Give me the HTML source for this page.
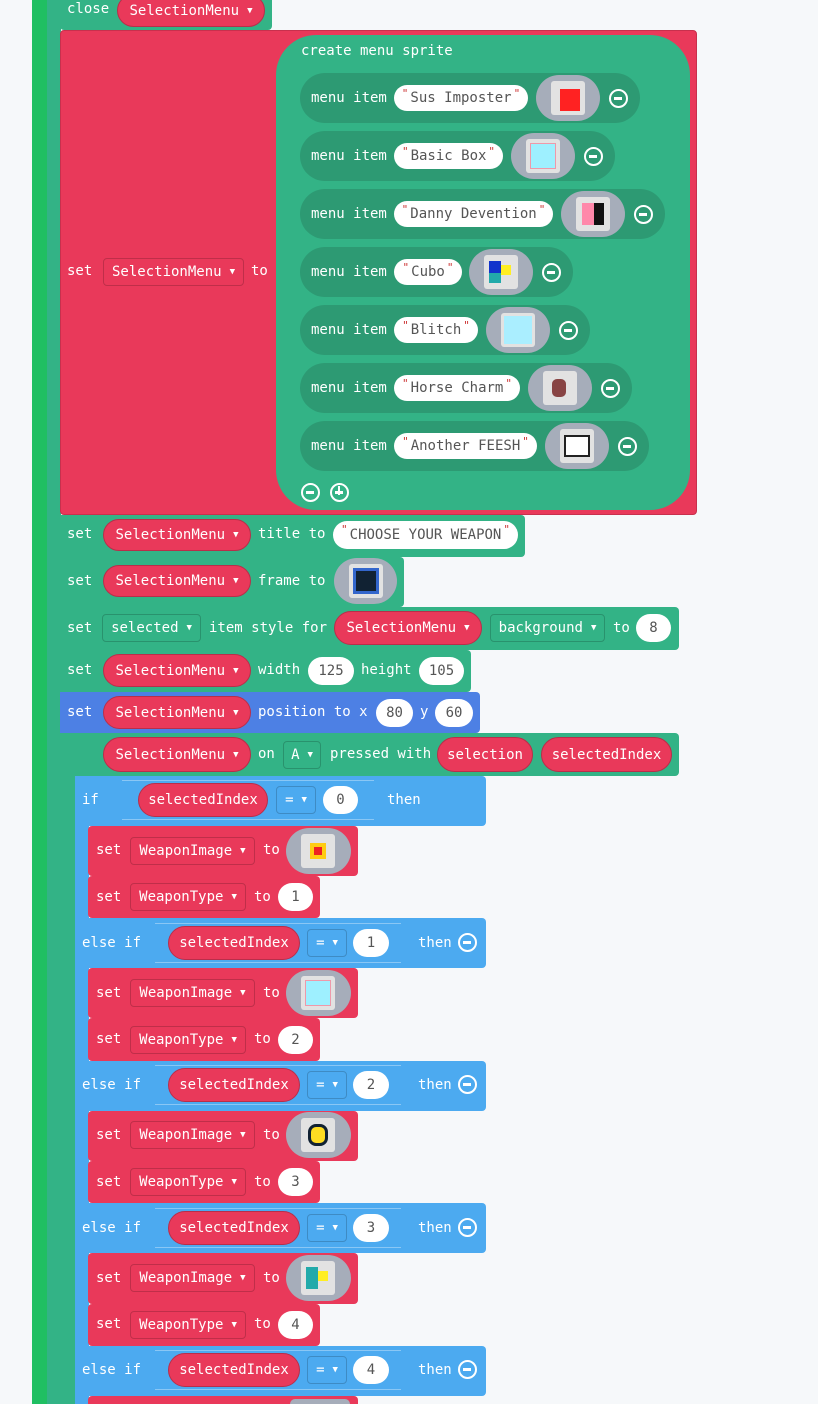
<!DOCTYPE html>
<html style="overflow:hidden;height:1404px"><head><meta charset="utf-8"><style>
*{box-sizing:border-box;margin:0;padding:0}
body{width:818px;height:1404px;background:#f6f8fa;position:relative;overflow:hidden;font-family:"DejaVu Sans Mono","Liberation Mono",monospace}
.a{position:absolute}
.t{position:absolute;color:#fff;font-size:14px;line-height:18px;white-space:nowrap}
.p,.d,.n,.s{position:absolute;display:flex;align-items:center;justify-content:center;font-size:14px;white-space:nowrap}
.p{background:#e9395a;border:1px solid #b92e4a;border-radius:20px;color:#fff}
.d{border:1px solid rgba(0,0,0,.18);border-radius:4px;color:#fff}
.n{background:#fff;border-radius:20px;color:#555}
.s{background:#fff;border-radius:20px;color:#555}
.s::before{content:'"';color:#c33;font-size:11px;margin-right:2px;align-self:flex-start;margin-top:2px}
.s::after{content:'"';color:#c33;font-size:11px;margin-left:2px;align-self:flex-start;margin-top:2px}
.c{font-size:9px;margin-left:8px}
.r{background:#e9395a}.g{background:#33b386}.dg{background:#2d9a73}.bl{background:#4caaf0}.pb{background:#4d80e4}
.im{position:absolute;background:#a6adba;border-radius:24px;width:64px;height:46px}
.im i{position:absolute;left:15px;top:6px;width:34px;height:34px;background:#e2e2e2;border-radius:3px;display:block}
.mi{position:absolute;width:19px;height:19px;border:2.5px solid #fff;border-radius:50%}
.mi::after{content:'';position:absolute;left:3px;top:6px;width:8px;height:2.5px;background:#fff}
.hx{position:absolute;border:1px solid rgba(255,255,255,.35);height:40px}
</style></head><body>
<div class="a" style="left:32px;top:0;width:15px;height:1404px;background:#20bf62"></div>
<div class="a g" style="left:47px;top:0;width:14px;height:1404px"></div>
<div class="a g" style="left:60px;top:733px;width:16px;height:671px"></div>

<div class="a g" style="left:60px;top:0;width:212px;height:30px;border-radius:0 0 4px 4px"></div>
<div class="t" style="left:67px;top:0">close</div>
<div class="p" style="left:117px;top:-6px;width:148px;height:33px">SelectionMenu<span class="c">▼</span></div>

<div class="a r" style="left:60px;top:30px;width:637px;height:485px;border-radius:4px;border:1px solid #c8304d"></div>
<div class="t" style="left:67px;top:262px">set</div>
<div class="d" style="left:103px;top:258px;width:141px;height:28px">SelectionMenu<span class="c">▼</span></div>
<div class="t" style="left:251px;top:262px">to</div>
<div class="a g" style="left:276px;top:35px;width:414px;height:475px;border-radius:40px"></div>
<div class="t" style="left:301px;top:42px">create menu sprite</div>

<div class="a dg" style="left:300px;top:73px;width:340px;height:50px;border-radius:25px"></div>
<div class="t" style="left:311px;top:89px">menu item</div>
<div class="s" style="left:394px;top:85px;width:134px;height:26px">Sus Imposter</div>
<div class="im" style="left:536px;top:75px"><i></i><b class="a" style="left:24px;top:14px;width:20px;height:22px;background:#f22"></b></div>
<div class="mi" style="left:609px;top:89px"></div>

<div class="a dg" style="left:300px;top:131px;width:315px;height:50px;border-radius:25px"></div>
<div class="t" style="left:311px;top:147px">menu item</div>
<div class="s" style="left:394px;top:143px;width:109px;height:26px">Basic Box</div>
<div class="im" style="left:511px;top:133px"><i></i><b class="a" style="left:19px;top:10px;width:26px;height:26px;background:#9ef0ff;border:1px solid #e9a"></b></div>
<div class="mi" style="left:584px;top:147px"></div>

<div class="a dg" style="left:300px;top:189px;width:365px;height:50px;border-radius:25px"></div>
<div class="t" style="left:311px;top:205px">menu item</div>
<div class="s" style="left:394px;top:201px;width:159px;height:26px">Danny Devention</div>
<div class="im" style="left:561px;top:191px"><i></i><b class="a" style="left:21px;top:12px;width:12px;height:22px;background:#f8a"></b><b class="a" style="left:33px;top:12px;width:10px;height:22px;background:#111"></b></div>
<div class="mi" style="left:634px;top:205px"></div>

<div class="a dg" style="left:300px;top:247px;width:273px;height:50px;border-radius:25px"></div>
<div class="t" style="left:311px;top:263px">menu item</div>
<div class="s" style="left:394px;top:259px;width:68px;height:26px">Cubo</div>
<div class="im" style="left:469px;top:249px"><i></i><b class="a" style="left:20px;top:12px;width:12px;height:12px;background:#13c"></b><b class="a" style="left:20px;top:24px;width:12px;height:10px;background:#2aa"></b><b class="a" style="left:32px;top:16px;width:10px;height:10px;background:#fe2"></b></div>
<div class="mi" style="left:542px;top:263px"></div>

<div class="a dg" style="left:300px;top:305px;width:290px;height:50px;border-radius:25px"></div>
<div class="t" style="left:311px;top:321px">menu item</div>
<div class="s" style="left:394px;top:317px;width:84px;height:26px">Blitch</div>
<div class="im" style="left:486px;top:307px"><i></i><b class="a" style="left:18px;top:9px;width:28px;height:28px;background:#aef"></b></div>
<div class="mi" style="left:559px;top:321px"></div>

<div class="a dg" style="left:300px;top:363px;width:332px;height:50px;border-radius:25px"></div>
<div class="t" style="left:311px;top:379px">menu item</div>
<div class="s" style="left:394px;top:375px;width:126px;height:26px">Horse Charm</div>
<div class="im" style="left:528px;top:365px"><i></i><b class="a" style="left:24px;top:14px;width:14px;height:18px;background:#844;border-radius:5px"></b></div>
<div class="mi" style="left:601px;top:379px"></div>

<div class="a dg" style="left:300px;top:421px;width:349px;height:50px;border-radius:25px"></div>
<div class="t" style="left:311px;top:437px">menu item</div>
<div class="s" style="left:394px;top:433px;width:143px;height:26px">Another FEESH</div>
<div class="im" style="left:545px;top:423px"><i></i><b class="a" style="left:19px;top:12px;width:26px;height:22px;background:#fff;border:2px solid #222"></b></div>
<div class="mi" style="left:618px;top:437px"></div>

<div class="mi" style="left:301px;top:483px"></div>
<div class="mi" style="left:330px;top:483px"></div>
<div class="a" style="left:337.5px;top:486px;width:2.5px;height:9px;background:#fff"></div>

<div class="a g" style="left:60px;top:515px;width:465px;height:42px;border-radius:0 4px 4px 0"></div>
<div class="t" style="left:67px;top:525px">set</div>
<div class="p" style="left:103px;top:519px;width:148px;height:32px">SelectionMenu<span class="c">▼</span></div>
<div class="t" style="left:258px;top:525px">title to</div>
<div class="s" style="left:333px;top:521px;width:185px;height:28px">CHOOSE YOUR WEAPON</div>

<div class="a g" style="left:60px;top:557px;width:344px;height:50px;border-radius:0 4px 4px 0"></div>
<div class="t" style="left:67px;top:572px">set</div>
<div class="p" style="left:103px;top:565px;width:148px;height:32px">SelectionMenu<span class="c">▼</span></div>
<div class="t" style="left:258px;top:572px">frame to</div>
<div class="im" style="left:334px;top:558px;width:63px"><i></i><b class="a" style="left:19px;top:10px;width:26px;height:26px;background:#123;border:3px solid #36c"></b></div>

<div class="a g" style="left:60px;top:607px;width:619px;height:43px;border-radius:0 4px 4px 0"></div>
<div class="t" style="left:67px;top:619px">set</div>
<div class="d" style="left:102px;top:614px;width:99px;height:28px">selected<span class="c">▼</span></div>
<div class="t" style="left:209px;top:619px">item style for</div>
<div class="p" style="left:334px;top:611px;width:148px;height:34px">SelectionMenu<span class="c">▼</span></div>
<div class="d" style="left:490px;top:614px;width:115px;height:28px">background<span class="c">▼</span></div>
<div class="t" style="left:613px;top:619px">to</div>
<div class="n" style="left:636px;top:614px;width:35px;height:28px">8</div>

<div class="a g" style="left:60px;top:650px;width:411px;height:42px;border-radius:0 4px 4px 0"></div>
<div class="t" style="left:67px;top:661px">set</div>
<div class="p" style="left:103px;top:654px;width:148px;height:33px">SelectionMenu<span class="c">▼</span></div>
<div class="t" style="left:258px;top:661px">width</div>
<div class="n" style="left:308px;top:657px;width:46px;height:28px">125</div>
<div class="t" style="left:361px;top:661px">height</div>
<div class="n" style="left:419px;top:657px;width:45px;height:28px">105</div>

<div class="a pb" style="left:60px;top:692px;width:420px;height:41px;border-radius:0 4px 4px 0"></div>
<div class="t" style="left:67px;top:703px">set</div>
<div class="p" style="left:103px;top:696px;width:148px;height:33px">SelectionMenu<span class="c">▼</span></div>
<div class="t" style="left:258px;top:703px">position to x</div>
<div class="n" style="left:376px;top:699px;width:37px;height:28px">80</div>
<div class="t" style="left:420px;top:703px">y</div>
<div class="n" style="left:435px;top:699px;width:38px;height:28px">60</div>

<div class="a g" style="left:60px;top:733px;width:619px;height:43px;border-radius:0 4px 4px 0"></div>
<div class="p" style="left:103px;top:737px;width:148px;height:35px">SelectionMenu<span class="c">▼</span></div>
<div class="t" style="left:258px;top:745px">on</div>
<div class="d" style="left:283px;top:741px;width:38px;height:28px">A<span class="c">▼</span></div>
<div class="t" style="left:330px;top:745px">pressed with</div>
<div class="p" style="left:437px;top:737px;width:96px;height:35px">selection</div>
<div class="p" style="left:541px;top:737px;width:131px;height:35px">selectedIndex</div>

<div class="a bl" style="left:75px;top:776px;width:14px;height:628px"></div>
<div class="a bl" style="left:75px;top:776px;width:411px;height:50px;border-radius:4px"></div>
<div class="t" style="left:82px;top:791px">if</div>
<div class="hx" style="left:122px;top:780px;width:252px;border-left:none;border-right:none"></div>
<div class="p" style="left:138px;top:783px;width:130px;height:34px">selectedIndex</div>
<div class="d" style="left:276px;top:786px;width:40px;height:28px">=<span class="c">▼</span></div>
<div class="n" style="left:323px;top:786px;width:35px;height:28px">0</div>
<div class="t" style="left:387px;top:791px">then</div>

<div class="a r" style="left:88px;top:826px;width:270px;height:50px;border-radius:4px"></div>
<div class="t" style="left:96px;top:841px">set</div>
<div class="d" style="left:130px;top:837px;width:125px;height:28px">WeaponImage<span class="c">▼</span></div>
<div class="t" style="left:263px;top:841px">to</div>
<div class="im" style="left:286px;top:828px;width:65px"><i></i><b class="a" style="left:24px;top:15px;width:16px;height:16px;background:#e22;border:4px solid #fc1"></b></div>
<div class="a r" style="left:88px;top:876px;width:232px;height:42px;border-radius:4px"></div>
<div class="t" style="left:96px;top:888px">set</div>
<div class="d" style="left:130px;top:883px;width:116px;height:28px">WeaponType<span class="c">▼</span></div>
<div class="t" style="left:254px;top:888px">to</div>
<div class="n" style="left:278px;top:883px;width:35px;height:28px">1</div>

<div class="a bl" style="left:75px;top:918px;width:411px;height:50px;border-radius:4px"></div>
<div class="t" style="left:82px;top:934px">else if</div>
<div class="hx" style="left:155px;top:923px;width:246px;border-left:none;border-right:none"></div>
<div class="p" style="left:168px;top:926px;width:132px;height:34px">selectedIndex</div>
<div class="d" style="left:307px;top:929px;width:40px;height:28px">=<span class="c">▼</span></div>
<div class="n" style="left:353px;top:929px;width:36px;height:28px">1</div>
<div class="t" style="left:418px;top:934px">then</div>
<div class="mi" style="left:458px;top:933px"></div>
<div class="a r" style="left:88px;top:968px;width:270px;height:50px;border-radius:4px"></div>
<div class="t" style="left:96px;top:984px">set</div>
<div class="d" style="left:130px;top:979px;width:125px;height:28px">WeaponImage<span class="c">▼</span></div>
<div class="t" style="left:263px;top:984px">to</div>
<div class="im" style="left:286px;top:970px;width:65px"><i></i><b class="a" style="left:19px;top:10px;width:26px;height:26px;background:#9ef0ff;border:1px solid #e9a"></b></div>
<div class="a r" style="left:88px;top:1018px;width:232px;height:43px;border-radius:4px"></div>
<div class="t" style="left:96px;top:1030px">set</div>
<div class="d" style="left:130px;top:1026px;width:116px;height:28px">WeaponType<span class="c">▼</span></div>
<div class="t" style="left:254px;top:1030px">to</div>
<div class="n" style="left:278px;top:1026px;width:35px;height:28px">2</div>

<div class="a bl" style="left:75px;top:1061px;width:411px;height:50px;border-radius:4px"></div>
<div class="t" style="left:82px;top:1076px">else if</div>
<div class="hx" style="left:155px;top:1065px;width:246px;border-left:none;border-right:none"></div>
<div class="p" style="left:168px;top:1068px;width:132px;height:34px">selectedIndex</div>
<div class="d" style="left:307px;top:1071px;width:40px;height:28px">=<span class="c">▼</span></div>
<div class="n" style="left:353px;top:1071px;width:36px;height:28px">2</div>
<div class="t" style="left:418px;top:1076px">then</div>
<div class="mi" style="left:458px;top:1075px"></div>
<div class="a r" style="left:88px;top:1111px;width:270px;height:50px;border-radius:4px"></div>
<div class="t" style="left:96px;top:1126px">set</div>
<div class="d" style="left:130px;top:1121px;width:125px;height:28px">WeaponImage<span class="c">▼</span></div>
<div class="t" style="left:263px;top:1126px">to</div>
<div class="im" style="left:286px;top:1112px;width:65px"><i></i><b class="a" style="left:22px;top:12px;width:20px;height:22px;background:#fd2;border:3px solid #123;border-radius:8px"></b></div>
<div class="a r" style="left:88px;top:1161px;width:232px;height:42px;border-radius:4px"></div>
<div class="t" style="left:96px;top:1173px">set</div>
<div class="d" style="left:130px;top:1168px;width:116px;height:28px">WeaponType<span class="c">▼</span></div>
<div class="t" style="left:254px;top:1173px">to</div>
<div class="n" style="left:278px;top:1168px;width:35px;height:28px">3</div>

<div class="a bl" style="left:75px;top:1203px;width:411px;height:50px;border-radius:4px"></div>
<div class="t" style="left:82px;top:1219px">else if</div>
<div class="hx" style="left:155px;top:1208px;width:246px;border-left:none;border-right:none"></div>
<div class="p" style="left:168px;top:1211px;width:132px;height:34px">selectedIndex</div>
<div class="d" style="left:307px;top:1214px;width:40px;height:28px">=<span class="c">▼</span></div>
<div class="n" style="left:353px;top:1214px;width:36px;height:28px">3</div>
<div class="t" style="left:418px;top:1219px">then</div>
<div class="mi" style="left:458px;top:1218px"></div>
<div class="a r" style="left:88px;top:1253px;width:270px;height:51px;border-radius:4px"></div>
<div class="t" style="left:96px;top:1269px">set</div>
<div class="d" style="left:130px;top:1264px;width:125px;height:28px">WeaponImage<span class="c">▼</span></div>
<div class="t" style="left:263px;top:1269px">to</div>
<div class="im" style="left:286px;top:1255px;width:65px"><i></i><b class="a" style="left:20px;top:12px;width:12px;height:22px;background:#2aa"></b><b class="a" style="left:32px;top:16px;width:10px;height:10px;background:#fe2"></b></div>
<div class="a r" style="left:88px;top:1304px;width:232px;height:42px;border-radius:4px"></div>
<div class="t" style="left:96px;top:1315px">set</div>
<div class="d" style="left:130px;top:1311px;width:116px;height:28px">WeaponType<span class="c">▼</span></div>
<div class="t" style="left:254px;top:1315px">to</div>
<div class="n" style="left:278px;top:1311px;width:35px;height:28px">4</div>

<div class="a bl" style="left:75px;top:1346px;width:411px;height:50px;border-radius:4px"></div>
<div class="t" style="left:82px;top:1361px">else if</div>
<div class="hx" style="left:155px;top:1350px;width:246px;border-left:none;border-right:none"></div>
<div class="p" style="left:168px;top:1353px;width:132px;height:34px">selectedIndex</div>
<div class="d" style="left:307px;top:1356px;width:40px;height:28px">=<span class="c">▼</span></div>
<div class="n" style="left:353px;top:1356px;width:36px;height:28px">4</div>
<div class="t" style="left:418px;top:1361px">then</div>
<div class="mi" style="left:458px;top:1360px"></div>
<div class="a r" style="left:88px;top:1396px;width:270px;height:8px;border-radius:4px 4px 0 0"></div>
<div class="a" style="left:290px;top:1399px;width:60px;height:5px;background:#a6adba;border-radius:20px 20px 0 0"></div>
</body></html>
